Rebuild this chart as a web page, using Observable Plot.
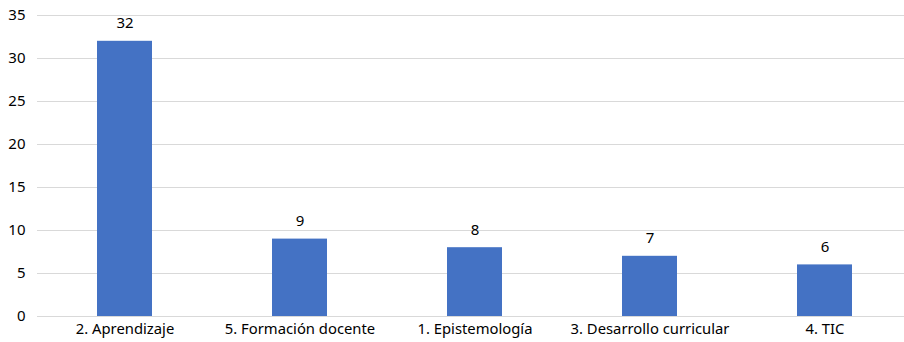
<!DOCTYPE html>
<html>
<head>
<meta charset="utf-8">
<script src="https://cdn.jsdelivr.net/npm/d3@7"></script>
<script src="https://cdn.jsdelivr.net/npm/@observablehq/plot@0.6"></script>
<style>
  html, body { margin: 0; padding: 0; background: #fff; overflow: hidden; }
  #chart { width: 904px; height: 342px; overflow: hidden; }
</style>
</head>
<body>
<div id="chart"></div>
<script>
const categories = ["2. Aprendizaje", "5. Formación docente", "1. Epistemología", "3. Desarrollo curricular", "4. TIC"];
const values = [32, 9, 8, 7, 6];
const yTicks = [0, 5, 10, 15, 20, 25, 30, 35];

const data = categories.map((c, i) => ({category: c, value: values[i]}));

const chart = Plot.plot({
  width: 904,
  height: 342,
  marginTop: 15,
  marginBottom: 26,
  marginLeft: 37,
  marginRight: 0,
  style: {fontFamily: "'Noto Sans', sans-serif", fontSize: "14px", color: "#000", background: "#fff", overflow: "hidden"},
  x: {domain: categories, range: [37, 912], paddingInner: 0.686, paddingOuter: 0.343, label: null},
  y: {domain: [0, 35], ticks: yTicks, label: null},
  marks: [
    Plot.ruleY(yTicks, {stroke: "#d9d9d9", strokeWidth: 1.2}),
    Plot.barY(data, {x: "category", y: "value", fill: "#4472C4"}),
    Plot.text(data, {x: "category", y: "value", text: d => String(d.value), dy: -18, fontSize: 15, fill: "#000"}),
    Plot.axisY({ticks: yTicks, tickSize: 0, tickPadding: 12, fontSize: 15, label: null}),
    Plot.axisX({tickSize: 0, tickPadding: 7, fontSize: 14.8, label: null})
  ]
});
document.getElementById("chart").appendChild(chart);
</script>
</body>
</html>
